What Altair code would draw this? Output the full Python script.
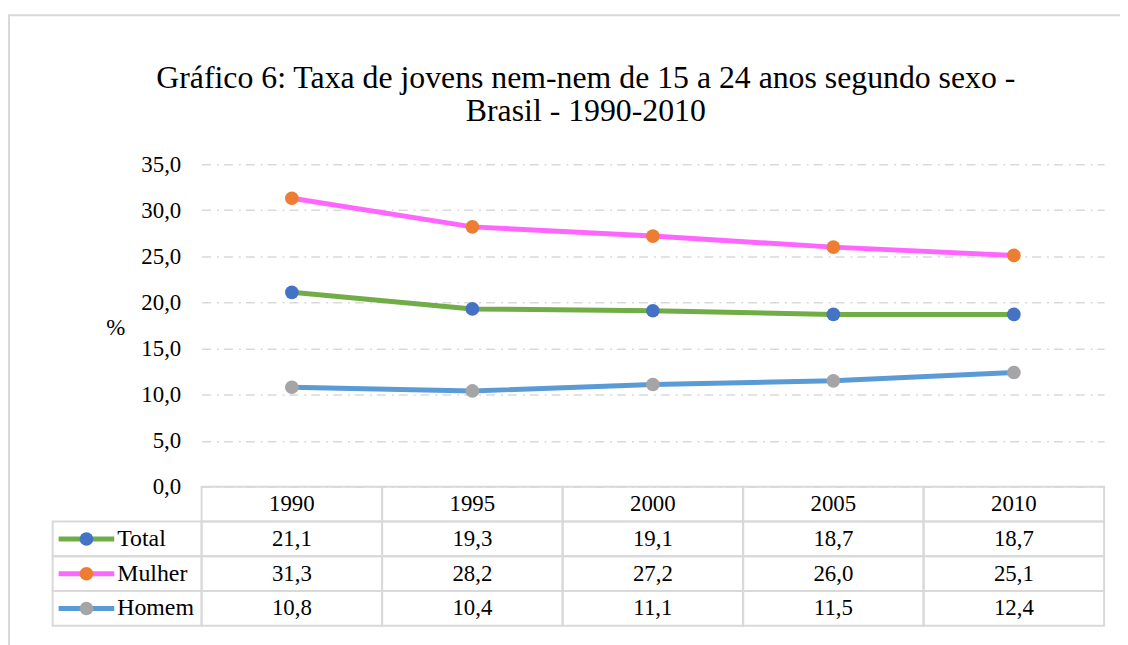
import altair as alt
import pandas as pd

# ---- data ----
anos = ["1990", "1995", "2000", "2005", "2010"]
series = ["Total", "Mulher", "Homem"]
total = [21.1, 19.3, 19.1, 18.7, 18.7]
mulher = [31.3, 28.2, 27.2, 26.0, 25.1]
homem = [10.8, 10.4, 11.1, 11.5, 12.4]
y_ticks = [0, 5, 10, 15, 20, 25, 30, 35]
title_lines = ["Gráfico 6: Taxa de jovens nem-nem de 15 a 24 anos segundo sexo -",
               "Brasil - 1990-2010"]
y_title = "%"

# ---- styles ----
line_colors = ["#70AD47", "#FF66FF", "#5B9BD5"]
marker_colors = ["#4472C4", "#ED7D31", "#A5A5A5"]
FONT = "Liberation Serif"
GRID = "#D9D9D9"
W, H = 909, 325
FS = 23

rows = []
for s, vals in zip(series, [total, mulher, homem]):
    for a, v in zip(anos, vals):
        rows.append({"serie": s, "ano": a, "valor": v,
                     "texto": f"{v:.1f}".replace(".", ","), "linha": s})
df = pd.DataFrame(rows)

row_order = ["cab"] + series
tab = pd.concat([
    pd.DataFrame({"ano": anos, "linha": "cab", "texto": anos}),
    df[["ano", "linha", "texto"]],
], ignore_index=True)
leg = pd.DataFrame({"serie": series, "linha": series})

band_x = alt.Scale(type="band", domain=anos, paddingInner=0, paddingOuter=0)
row_scale = alt.Scale(type="band", domain=row_order, range=[325, 465],
                      paddingInner=0, paddingOuter=0)
stroke_enc = alt.Stroke("serie:N", scale=alt.Scale(domain=series, range=line_colors), legend=None)
fill_enc = alt.Fill("serie:N", scale=alt.Scale(domain=series, range=marker_colors), legend=None)

x_center = alt.X("ano:O", sort=anos, scale=band_x, bandPosition=0.5, axis=None)
x_cell = alt.X("ano:O", sort=anos, scale=band_x, axis=None)

y_val = alt.Y(
    "valor:Q",
    scale=alt.Scale(domain=[0, 35], nice=False),
    axis=alt.Axis(
        values=y_ticks,
        labelExpr="replace(format(datum.value, '.1f'), '.', ',')",
        labelFont=FONT, labelFontSize=FS, labelColor="#000", labelPadding=21,
        labelFontWeight="normal",
        ticks=False, domain=False,
        grid=True, gridColor=GRID, gridWidth=1.5, gridDash=[9, 6, 2, 5],
        title=y_title, titleAngle=0, titleFont=FONT, titleFontSize=FS,
        titleFontWeight="normal", titleColor="#000",
        titleX=-87, titleY=165, titleAlign="center", titleBaseline="middle",
    ),
)

base = alt.Chart(df)
lines = base.mark_line(strokeWidth=5).encode(x=x_center, y=y_val, stroke=stroke_enc)
points = base.mark_circle(size=190, opacity=1).encode(x=x_center, y=y_val, fill=fill_enc)
plot = alt.layer(lines, points)

# ---- data table ----
y_row_cell = alt.Y("linha:N", sort=row_order, scale=row_scale, axis=None)
y_row_mid = alt.Y("linha:N", sort=row_order, scale=row_scale, bandPosition=0.5, axis=None)

cells = alt.Chart(tab).mark_rect(filled=False, color=GRID, strokeWidth=2).encode(
    x=x_cell, y=y_row_cell)
cell_text = alt.Chart(tab).mark_text(font=FONT, fontSize=FS, color="#000",
                                     fontWeight="normal",
                                     baseline="middle", align="center").encode(
    x=x_center, y=y_row_mid, text="texto:N")
table_years = alt.layer(cells, cell_text)

leg_base = alt.Chart(leg)
leg_cells = leg_base.mark_rect(filled=False, color=GRID, strokeWidth=2).encode(
    x=alt.value(-150), x2=alt.value(0), y=y_row_cell)
leg_lines = leg_base.mark_rule(strokeWidth=5).encode(
    x=alt.value(-144), x2=alt.value(-88), y=y_row_mid, stroke=stroke_enc)
leg_points = leg_base.mark_circle(size=190, opacity=1).encode(
    x=alt.value(-116), y=y_row_mid, fill=fill_enc)
leg_text = leg_base.mark_text(font=FONT, fontSize=24, color="#000", fontWeight="normal",
                              baseline="middle", align="left").encode(
    x=alt.value(-85), y=y_row_mid, text="serie:N")
table_legend = alt.layer(leg_cells, leg_lines, leg_points, leg_text)

# ---- title and outer frame ----
one = pd.DataFrame({"k": [0]})
title = alt.Chart(one).mark_text(font=FONT, fontSize=32, color="#000", align="center",
                                 fontWeight="normal",
                                 baseline="alphabetic", lineHeight=34).encode(
    x=alt.value(387), y=alt.value(-77), text=alt.value(title_lines))
frame = alt.Chart(one).mark_rect(filled=False, color=GRID, strokeWidth=2).encode(
    x=alt.value(-194), x2=alt.value(1200), y=alt.value(-150), y2=alt.value(800))

chart = alt.layer(frame, plot, table_years, table_legend, title).resolve_scale(
    x="independent", y="independent"
).properties(
    width=W, height=H,
    autosize=alt.AutoSizeParams(type="none"),
    padding={"left": 195, "top": 155, "right": 16, "bottom": 157},
    background="#ffffff",
).configure_view(strokeWidth=0)

chart.save("out.html", embed_options={"renderer": "svg", "actions": False})
